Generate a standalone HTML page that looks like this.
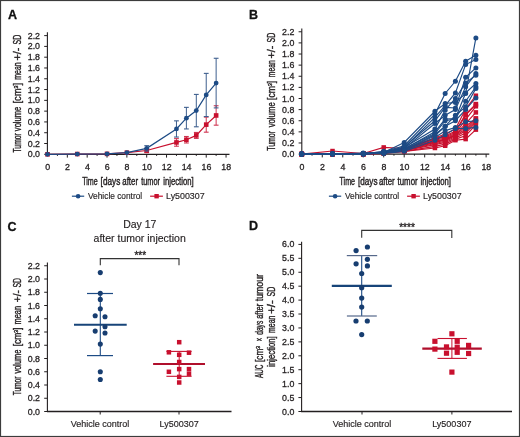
<!DOCTYPE html>
<html><head><meta charset="utf-8"><style>
html,body{margin:0;padding:0;background:#fff;}
svg{display:block;will-change:transform;}
text{font-family:"Liberation Sans", sans-serif;stroke:currentColor;stroke-width:0.3px;}
</style></head><body>
<svg width="520" height="437" viewBox="0 0 520 437">
<rect width="520" height="437" fill="#fff"/>
<rect x="0.5" y="0.5" width="519" height="436" fill="none" stroke="#3c3c3c" stroke-width="1.2"/>
<text x="8.00" y="19.10" font-size="12.5" fill="#111" color="#111" font-weight="bold" >A</text>
<line x1="47.40" y1="32.20" x2="47.40" y2="154.80" stroke="#231f20" stroke-width="1.1" />
<line x1="44.20" y1="154.30" x2="47.40" y2="154.30" stroke="#231f20" stroke-width="1" />
<text x="0" y="0" font-size="9.5" fill="#231f20" color="#231f20" text-anchor="end" transform="translate(40.00 157.30) scale(0.93 1)">0.0</text>
<line x1="44.20" y1="143.51" x2="47.40" y2="143.51" stroke="#231f20" stroke-width="1" />
<text x="0" y="0" font-size="9.5" fill="#231f20" color="#231f20" text-anchor="end" transform="translate(40.00 146.51) scale(0.93 1)">0.2</text>
<line x1="44.20" y1="132.72" x2="47.40" y2="132.72" stroke="#231f20" stroke-width="1" />
<text x="0" y="0" font-size="9.5" fill="#231f20" color="#231f20" text-anchor="end" transform="translate(40.00 135.72) scale(0.93 1)">0.4</text>
<line x1="44.20" y1="121.93" x2="47.40" y2="121.93" stroke="#231f20" stroke-width="1" />
<text x="0" y="0" font-size="9.5" fill="#231f20" color="#231f20" text-anchor="end" transform="translate(40.00 124.93) scale(0.93 1)">0.6</text>
<line x1="44.20" y1="111.14" x2="47.40" y2="111.14" stroke="#231f20" stroke-width="1" />
<text x="0" y="0" font-size="9.5" fill="#231f20" color="#231f20" text-anchor="end" transform="translate(40.00 114.14) scale(0.93 1)">0.8</text>
<line x1="44.20" y1="100.35" x2="47.40" y2="100.35" stroke="#231f20" stroke-width="1" />
<text x="0" y="0" font-size="9.5" fill="#231f20" color="#231f20" text-anchor="end" transform="translate(40.00 103.35) scale(0.93 1)">1.0</text>
<line x1="44.20" y1="89.56" x2="47.40" y2="89.56" stroke="#231f20" stroke-width="1" />
<text x="0" y="0" font-size="9.5" fill="#231f20" color="#231f20" text-anchor="end" transform="translate(40.00 92.56) scale(0.93 1)">1.2</text>
<line x1="44.20" y1="78.77" x2="47.40" y2="78.77" stroke="#231f20" stroke-width="1" />
<text x="0" y="0" font-size="9.5" fill="#231f20" color="#231f20" text-anchor="end" transform="translate(40.00 81.77) scale(0.93 1)">1.4</text>
<line x1="44.20" y1="67.98" x2="47.40" y2="67.98" stroke="#231f20" stroke-width="1" />
<text x="0" y="0" font-size="9.5" fill="#231f20" color="#231f20" text-anchor="end" transform="translate(40.00 70.98) scale(0.93 1)">1.6</text>
<line x1="44.20" y1="57.19" x2="47.40" y2="57.19" stroke="#231f20" stroke-width="1" />
<text x="0" y="0" font-size="9.5" fill="#231f20" color="#231f20" text-anchor="end" transform="translate(40.00 60.19) scale(0.93 1)">1.8</text>
<line x1="44.20" y1="46.40" x2="47.40" y2="46.40" stroke="#231f20" stroke-width="1" />
<text x="0" y="0" font-size="9.5" fill="#231f20" color="#231f20" text-anchor="end" transform="translate(40.00 49.40) scale(0.93 1)">2.0</text>
<line x1="44.20" y1="35.61" x2="47.40" y2="35.61" stroke="#231f20" stroke-width="1" />
<text x="0" y="0" font-size="9.5" fill="#231f20" color="#231f20" text-anchor="end" transform="translate(40.00 38.61) scale(0.93 1)">2.2</text>
<line x1="46.90" y1="154.30" x2="229.50" y2="154.30" stroke="#231f20" stroke-width="1.3" />
<text x="47.70" y="169.50" font-size="8.8" fill="#231f20" color="#231f20" text-anchor="middle" >0</text>
<line x1="57.42" y1="154.30" x2="57.42" y2="155.90" stroke="#231f20" stroke-width="1" />
<line x1="67.34" y1="154.30" x2="67.34" y2="157.60" stroke="#231f20" stroke-width="1" />
<text x="67.54" y="169.50" font-size="8.8" fill="#231f20" color="#231f20" text-anchor="middle" >2</text>
<line x1="77.26" y1="154.30" x2="77.26" y2="155.90" stroke="#231f20" stroke-width="1" />
<line x1="87.18" y1="154.30" x2="87.18" y2="157.60" stroke="#231f20" stroke-width="1" />
<text x="87.38" y="169.50" font-size="8.8" fill="#231f20" color="#231f20" text-anchor="middle" >4</text>
<line x1="97.10" y1="154.30" x2="97.10" y2="155.90" stroke="#231f20" stroke-width="1" />
<line x1="107.02" y1="154.30" x2="107.02" y2="157.60" stroke="#231f20" stroke-width="1" />
<text x="107.22" y="169.50" font-size="8.8" fill="#231f20" color="#231f20" text-anchor="middle" >6</text>
<line x1="116.94" y1="154.30" x2="116.94" y2="155.90" stroke="#231f20" stroke-width="1" />
<line x1="126.86" y1="154.30" x2="126.86" y2="157.60" stroke="#231f20" stroke-width="1" />
<text x="127.06" y="169.50" font-size="8.8" fill="#231f20" color="#231f20" text-anchor="middle" >8</text>
<line x1="136.78" y1="154.30" x2="136.78" y2="155.90" stroke="#231f20" stroke-width="1" />
<line x1="146.70" y1="154.30" x2="146.70" y2="157.60" stroke="#231f20" stroke-width="1" />
<text x="146.90" y="169.50" font-size="8.8" fill="#231f20" color="#231f20" text-anchor="middle" >10</text>
<line x1="156.62" y1="154.30" x2="156.62" y2="155.90" stroke="#231f20" stroke-width="1" />
<line x1="166.54" y1="154.30" x2="166.54" y2="157.60" stroke="#231f20" stroke-width="1" />
<text x="166.74" y="169.50" font-size="8.8" fill="#231f20" color="#231f20" text-anchor="middle" >12</text>
<line x1="176.46" y1="154.30" x2="176.46" y2="155.90" stroke="#231f20" stroke-width="1" />
<line x1="186.38" y1="154.30" x2="186.38" y2="157.60" stroke="#231f20" stroke-width="1" />
<text x="186.58" y="169.50" font-size="8.8" fill="#231f20" color="#231f20" text-anchor="middle" >14</text>
<line x1="196.30" y1="154.30" x2="196.30" y2="155.90" stroke="#231f20" stroke-width="1" />
<line x1="206.22" y1="154.30" x2="206.22" y2="157.60" stroke="#231f20" stroke-width="1" />
<text x="206.42" y="169.50" font-size="8.8" fill="#231f20" color="#231f20" text-anchor="middle" >16</text>
<line x1="216.14" y1="154.30" x2="216.14" y2="155.90" stroke="#231f20" stroke-width="1" />
<line x1="226.06" y1="154.30" x2="226.06" y2="157.60" stroke="#231f20" stroke-width="1" />
<text x="226.26" y="169.50" font-size="8.8" fill="#231f20" color="#231f20" text-anchor="middle" >18</text>
<text x="0" y="0" font-size="10.3" fill="#231f20" color="#231f20" transform="translate(20.90 152.55) rotate(-90)" textLength="19.40" lengthAdjust="spacingAndGlyphs" style="stroke-width:0.38px">Tumor</text>
<text x="0" y="0" font-size="10.3" fill="#231f20" color="#231f20" transform="translate(20.90 131.15) rotate(-90)" textLength="24.50" lengthAdjust="spacingAndGlyphs" style="stroke-width:0.38px">volume</text>
<text x="0" y="0" font-size="10.3" fill="#231f20" color="#231f20" transform="translate(20.90 103.55) rotate(-90)" textLength="20.80" lengthAdjust="spacingAndGlyphs" style="stroke-width:0.38px">[cm<tspan font-size="6" dy="-3.2">3</tspan><tspan dy="3.2">]</tspan></text>
<text x="0" y="0" font-size="10.3" fill="#231f20" color="#231f20" transform="translate(20.90 79.75) rotate(-90)" textLength="17.50" lengthAdjust="spacingAndGlyphs" style="stroke-width:0.38px">mean</text>
<text x="0" y="0" font-size="10.3" fill="#231f20" color="#231f20" transform="translate(20.90 60.55) rotate(-90)" textLength="13.00" lengthAdjust="spacingAndGlyphs" style="stroke-width:0.38px">+/-</text>
<text x="0" y="0" font-size="10.3" fill="#231f20" color="#231f20" transform="translate(20.90 44.45) rotate(-90)" textLength="9.70" lengthAdjust="spacingAndGlyphs" style="stroke-width:0.38px">SD</text>
<text x="82.20" y="184.50" font-size="10.3" fill="#231f20" color="#231f20" textLength="15.50" lengthAdjust="spacingAndGlyphs" style="stroke-width:0.4px">Time</text>
<text x="100.60" y="184.50" font-size="10.3" fill="#231f20" color="#231f20" textLength="19.70" lengthAdjust="spacingAndGlyphs" style="stroke-width:0.4px">[days</text>
<text x="122.30" y="184.50" font-size="10.3" fill="#231f20" color="#231f20" textLength="15.70" lengthAdjust="spacingAndGlyphs" style="stroke-width:0.4px">after</text>
<text x="141.20" y="184.50" font-size="10.3" fill="#231f20" color="#231f20" textLength="18.80" lengthAdjust="spacingAndGlyphs" style="stroke-width:0.4px">tumor</text>
<text x="163.20" y="184.50" font-size="10.3" fill="#231f20" color="#231f20" textLength="30.40" lengthAdjust="spacingAndGlyphs" style="stroke-width:0.4px">injection]</text>
<polyline points="47.50,154.30 77.26,154.03 107.02,153.87 126.86,152.68 146.70,150.52 176.46,142.43 186.38,139.73 196.30,135.42 206.22,124.63 216.14,115.46" fill="none" stroke="#c8102e" stroke-width="1.2"/>
<line x1="146.70" y1="148.37" x2="146.70" y2="152.68" stroke="#cf3450" stroke-width="1" />
<line x1="144.30" y1="148.37" x2="149.10" y2="148.37" stroke="#cf3450" stroke-width="1.1" />
<line x1="144.30" y1="152.68" x2="149.10" y2="152.68" stroke="#cf3450" stroke-width="1.1" />
<line x1="176.46" y1="138.65" x2="176.46" y2="146.21" stroke="#cf3450" stroke-width="1" />
<line x1="174.06" y1="138.65" x2="178.86" y2="138.65" stroke="#cf3450" stroke-width="1.1" />
<line x1="174.06" y1="146.21" x2="178.86" y2="146.21" stroke="#cf3450" stroke-width="1.1" />
<line x1="186.38" y1="136.50" x2="186.38" y2="142.97" stroke="#cf3450" stroke-width="1" />
<line x1="183.98" y1="136.50" x2="188.78" y2="136.50" stroke="#cf3450" stroke-width="1.1" />
<line x1="183.98" y1="142.97" x2="188.78" y2="142.97" stroke="#cf3450" stroke-width="1.1" />
<line x1="196.30" y1="132.45" x2="196.30" y2="138.38" stroke="#cf3450" stroke-width="1" />
<line x1="193.90" y1="132.45" x2="198.70" y2="132.45" stroke="#cf3450" stroke-width="1.1" />
<line x1="193.90" y1="138.38" x2="198.70" y2="138.38" stroke="#cf3450" stroke-width="1.1" />
<line x1="206.22" y1="117.07" x2="206.22" y2="132.18" stroke="#cf3450" stroke-width="1" />
<line x1="203.82" y1="117.07" x2="208.62" y2="117.07" stroke="#cf3450" stroke-width="1.1" />
<line x1="203.82" y1="132.18" x2="208.62" y2="132.18" stroke="#cf3450" stroke-width="1.1" />
<line x1="216.14" y1="105.75" x2="216.14" y2="125.17" stroke="#cf3450" stroke-width="1" />
<line x1="213.74" y1="105.75" x2="218.54" y2="105.75" stroke="#cf3450" stroke-width="1.1" />
<line x1="213.74" y1="125.17" x2="218.54" y2="125.17" stroke="#cf3450" stroke-width="1.1" />
<rect x="45.20" y="152.00" width="4.6" height="4.6" fill="#c8102e"/>
<rect x="74.96" y="151.73" width="4.6" height="4.6" fill="#c8102e"/>
<rect x="104.72" y="151.57" width="4.6" height="4.6" fill="#c8102e"/>
<rect x="124.56" y="150.38" width="4.6" height="4.6" fill="#c8102e"/>
<rect x="144.40" y="148.22" width="4.6" height="4.6" fill="#c8102e"/>
<rect x="174.16" y="140.13" width="4.6" height="4.6" fill="#c8102e"/>
<rect x="184.08" y="137.43" width="4.6" height="4.6" fill="#c8102e"/>
<rect x="194.00" y="133.12" width="4.6" height="4.6" fill="#c8102e"/>
<rect x="203.92" y="122.33" width="4.6" height="4.6" fill="#c8102e"/>
<rect x="213.84" y="113.16" width="4.6" height="4.6" fill="#c8102e"/>
<polyline points="47.50,154.30 77.26,154.03 107.02,153.87 126.86,152.68 146.70,148.37 176.46,128.94 186.38,118.15 196.30,110.60 206.22,94.96 216.14,83.09" fill="none" stroke="#1d4b85" stroke-width="1.2"/>
<line x1="146.70" y1="145.67" x2="146.70" y2="151.06" stroke="#3e5f8e" stroke-width="1" />
<line x1="144.30" y1="145.67" x2="149.10" y2="145.67" stroke="#3e5f8e" stroke-width="1.1" />
<line x1="144.30" y1="151.06" x2="149.10" y2="151.06" stroke="#3e5f8e" stroke-width="1.1" />
<line x1="176.46" y1="120.85" x2="176.46" y2="137.04" stroke="#3e5f8e" stroke-width="1" />
<line x1="174.06" y1="120.85" x2="178.86" y2="120.85" stroke="#3e5f8e" stroke-width="1.1" />
<line x1="174.06" y1="137.04" x2="178.86" y2="137.04" stroke="#3e5f8e" stroke-width="1.1" />
<line x1="186.38" y1="107.36" x2="186.38" y2="128.94" stroke="#3e5f8e" stroke-width="1" />
<line x1="183.98" y1="107.36" x2="188.78" y2="107.36" stroke="#3e5f8e" stroke-width="1.1" />
<line x1="183.98" y1="128.94" x2="188.78" y2="128.94" stroke="#3e5f8e" stroke-width="1.1" />
<line x1="196.30" y1="94.42" x2="196.30" y2="126.79" stroke="#3e5f8e" stroke-width="1" />
<line x1="193.90" y1="94.42" x2="198.70" y2="94.42" stroke="#3e5f8e" stroke-width="1.1" />
<line x1="193.90" y1="126.79" x2="198.70" y2="126.79" stroke="#3e5f8e" stroke-width="1.1" />
<line x1="206.22" y1="73.38" x2="206.22" y2="116.54" stroke="#3e5f8e" stroke-width="1" />
<line x1="203.82" y1="73.38" x2="208.62" y2="73.38" stroke="#3e5f8e" stroke-width="1.1" />
<line x1="203.82" y1="116.54" x2="208.62" y2="116.54" stroke="#3e5f8e" stroke-width="1.1" />
<line x1="216.14" y1="58.27" x2="216.14" y2="107.90" stroke="#3e5f8e" stroke-width="1" />
<line x1="213.74" y1="58.27" x2="218.54" y2="58.27" stroke="#3e5f8e" stroke-width="1.1" />
<line x1="213.74" y1="107.90" x2="218.54" y2="107.90" stroke="#3e5f8e" stroke-width="1.1" />
<circle cx="47.50" cy="154.30" r="2.4" fill="#1d4b85"/>
<circle cx="77.26" cy="154.03" r="2.4" fill="#1d4b85"/>
<circle cx="107.02" cy="153.87" r="2.4" fill="#1d4b85"/>
<circle cx="126.86" cy="152.68" r="2.4" fill="#1d4b85"/>
<circle cx="146.70" cy="148.37" r="2.4" fill="#1d4b85"/>
<circle cx="176.46" cy="128.94" r="2.4" fill="#1d4b85"/>
<circle cx="186.38" cy="118.15" r="2.4" fill="#1d4b85"/>
<circle cx="196.30" cy="110.60" r="2.4" fill="#1d4b85"/>
<circle cx="206.22" cy="94.96" r="2.4" fill="#1d4b85"/>
<circle cx="216.14" cy="83.09" r="2.4" fill="#1d4b85"/>
<line x1="71.90" y1="196.20" x2="84.20" y2="196.20" stroke="#1d4b85" stroke-width="1.2" />
<circle cx="78.10" cy="196.20" r="2.3" fill="#1d4b85"/>
<text x="88.00" y="198.90" font-size="8.5" fill="#231f20" color="#231f20" textLength="54.20" lengthAdjust="spacingAndGlyphs" style="stroke-width:0.15px">Vehicle control</text>
<line x1="150.10" y1="196.20" x2="162.90" y2="196.20" stroke="#c8102e" stroke-width="1.2" />
<rect x="154.40" y="194.00" width="4.4" height="4.4" fill="#c8102e"/>
<text x="166.10" y="198.90" font-size="8.5" fill="#231f20" color="#231f20" textLength="38.50" lengthAdjust="spacingAndGlyphs" style="stroke-width:0.15px">Ly500307</text>
<text x="249.10" y="19.10" font-size="12.5" fill="#111" color="#111" font-weight="bold" >B</text>
<line x1="301.80" y1="28.40" x2="301.80" y2="154.60" stroke="#231f20" stroke-width="1.1" />
<line x1="298.60" y1="154.10" x2="301.80" y2="154.10" stroke="#231f20" stroke-width="1" />
<text x="0" y="0" font-size="9.5" fill="#231f20" color="#231f20" text-anchor="end" transform="translate(294.30 157.10) scale(0.93 1)">0.0</text>
<line x1="298.60" y1="142.98" x2="301.80" y2="142.98" stroke="#231f20" stroke-width="1" />
<text x="0" y="0" font-size="9.5" fill="#231f20" color="#231f20" text-anchor="end" transform="translate(294.30 145.98) scale(0.93 1)">0.2</text>
<line x1="298.60" y1="131.86" x2="301.80" y2="131.86" stroke="#231f20" stroke-width="1" />
<text x="0" y="0" font-size="9.5" fill="#231f20" color="#231f20" text-anchor="end" transform="translate(294.30 134.86) scale(0.93 1)">0.4</text>
<line x1="298.60" y1="120.74" x2="301.80" y2="120.74" stroke="#231f20" stroke-width="1" />
<text x="0" y="0" font-size="9.5" fill="#231f20" color="#231f20" text-anchor="end" transform="translate(294.30 123.74) scale(0.93 1)">0.6</text>
<line x1="298.60" y1="109.62" x2="301.80" y2="109.62" stroke="#231f20" stroke-width="1" />
<text x="0" y="0" font-size="9.5" fill="#231f20" color="#231f20" text-anchor="end" transform="translate(294.30 112.62) scale(0.93 1)">0.8</text>
<line x1="298.60" y1="98.50" x2="301.80" y2="98.50" stroke="#231f20" stroke-width="1" />
<text x="0" y="0" font-size="9.5" fill="#231f20" color="#231f20" text-anchor="end" transform="translate(294.30 101.50) scale(0.93 1)">1.0</text>
<line x1="298.60" y1="87.38" x2="301.80" y2="87.38" stroke="#231f20" stroke-width="1" />
<text x="0" y="0" font-size="9.5" fill="#231f20" color="#231f20" text-anchor="end" transform="translate(294.30 90.38) scale(0.93 1)">1.2</text>
<line x1="298.60" y1="76.26" x2="301.80" y2="76.26" stroke="#231f20" stroke-width="1" />
<text x="0" y="0" font-size="9.5" fill="#231f20" color="#231f20" text-anchor="end" transform="translate(294.30 79.26) scale(0.93 1)">1.4</text>
<line x1="298.60" y1="65.14" x2="301.80" y2="65.14" stroke="#231f20" stroke-width="1" />
<text x="0" y="0" font-size="9.5" fill="#231f20" color="#231f20" text-anchor="end" transform="translate(294.30 68.14) scale(0.93 1)">1.6</text>
<line x1="298.60" y1="54.02" x2="301.80" y2="54.02" stroke="#231f20" stroke-width="1" />
<text x="0" y="0" font-size="9.5" fill="#231f20" color="#231f20" text-anchor="end" transform="translate(294.30 57.02) scale(0.93 1)">1.8</text>
<line x1="298.60" y1="42.90" x2="301.80" y2="42.90" stroke="#231f20" stroke-width="1" />
<text x="0" y="0" font-size="9.5" fill="#231f20" color="#231f20" text-anchor="end" transform="translate(294.30 45.90) scale(0.93 1)">2.0</text>
<line x1="298.60" y1="31.78" x2="301.80" y2="31.78" stroke="#231f20" stroke-width="1" />
<text x="0" y="0" font-size="9.5" fill="#231f20" color="#231f20" text-anchor="end" transform="translate(294.30 34.78) scale(0.93 1)">2.2</text>
<line x1="301.30" y1="154.10" x2="489.30" y2="154.10" stroke="#231f20" stroke-width="1.3" />
<text x="302.00" y="169.50" font-size="8.8" fill="#231f20" color="#231f20" text-anchor="middle" >0</text>
<line x1="312.04" y1="154.10" x2="312.04" y2="155.70" stroke="#231f20" stroke-width="1" />
<line x1="322.28" y1="154.10" x2="322.28" y2="157.40" stroke="#231f20" stroke-width="1" />
<text x="322.48" y="169.50" font-size="8.8" fill="#231f20" color="#231f20" text-anchor="middle" >2</text>
<line x1="332.52" y1="154.10" x2="332.52" y2="155.70" stroke="#231f20" stroke-width="1" />
<line x1="342.76" y1="154.10" x2="342.76" y2="157.40" stroke="#231f20" stroke-width="1" />
<text x="342.96" y="169.50" font-size="8.8" fill="#231f20" color="#231f20" text-anchor="middle" >4</text>
<line x1="353.00" y1="154.10" x2="353.00" y2="155.70" stroke="#231f20" stroke-width="1" />
<line x1="363.24" y1="154.10" x2="363.24" y2="157.40" stroke="#231f20" stroke-width="1" />
<text x="363.44" y="169.50" font-size="8.8" fill="#231f20" color="#231f20" text-anchor="middle" >6</text>
<line x1="373.48" y1="154.10" x2="373.48" y2="155.70" stroke="#231f20" stroke-width="1" />
<line x1="383.72" y1="154.10" x2="383.72" y2="157.40" stroke="#231f20" stroke-width="1" />
<text x="383.92" y="169.50" font-size="8.8" fill="#231f20" color="#231f20" text-anchor="middle" >8</text>
<line x1="393.96" y1="154.10" x2="393.96" y2="155.70" stroke="#231f20" stroke-width="1" />
<line x1="404.20" y1="154.10" x2="404.20" y2="157.40" stroke="#231f20" stroke-width="1" />
<text x="404.40" y="169.50" font-size="8.8" fill="#231f20" color="#231f20" text-anchor="middle" >10</text>
<line x1="414.44" y1="154.10" x2="414.44" y2="155.70" stroke="#231f20" stroke-width="1" />
<line x1="424.68" y1="154.10" x2="424.68" y2="157.40" stroke="#231f20" stroke-width="1" />
<text x="424.88" y="169.50" font-size="8.8" fill="#231f20" color="#231f20" text-anchor="middle" >12</text>
<line x1="434.92" y1="154.10" x2="434.92" y2="155.70" stroke="#231f20" stroke-width="1" />
<line x1="445.16" y1="154.10" x2="445.16" y2="157.40" stroke="#231f20" stroke-width="1" />
<text x="445.36" y="169.50" font-size="8.8" fill="#231f20" color="#231f20" text-anchor="middle" >14</text>
<line x1="455.40" y1="154.10" x2="455.40" y2="155.70" stroke="#231f20" stroke-width="1" />
<line x1="465.64" y1="154.10" x2="465.64" y2="157.40" stroke="#231f20" stroke-width="1" />
<text x="465.84" y="169.50" font-size="8.8" fill="#231f20" color="#231f20" text-anchor="middle" >16</text>
<line x1="475.88" y1="154.10" x2="475.88" y2="155.70" stroke="#231f20" stroke-width="1" />
<line x1="486.12" y1="154.10" x2="486.12" y2="157.40" stroke="#231f20" stroke-width="1" />
<text x="486.32" y="169.50" font-size="8.8" fill="#231f20" color="#231f20" text-anchor="middle" >18</text>
<text x="0" y="0" font-size="10.3" fill="#231f20" color="#231f20" transform="translate(274.80 150.75) rotate(-90)" textLength="19.80" lengthAdjust="spacingAndGlyphs" style="stroke-width:0.38px">Tumor</text>
<text x="0" y="0" font-size="10.3" fill="#231f20" color="#231f20" transform="translate(274.80 127.35) rotate(-90)" textLength="25.10" lengthAdjust="spacingAndGlyphs" style="stroke-width:0.38px">volume</text>
<text x="0" y="0" font-size="10.3" fill="#231f20" color="#231f20" transform="translate(274.80 99.95) rotate(-90)" textLength="19.20" lengthAdjust="spacingAndGlyphs" style="stroke-width:0.38px">[cm<tspan font-size="6" dy="-3.2">3</tspan><tspan dy="3.2">]</tspan></text>
<text x="0" y="0" font-size="10.3" fill="#231f20" color="#231f20" transform="translate(274.80 77.15) rotate(-90)" textLength="16.90" lengthAdjust="spacingAndGlyphs" style="stroke-width:0.38px">mean</text>
<text x="0" y="0" font-size="10.3" fill="#231f20" color="#231f20" transform="translate(274.80 58.55) rotate(-90)" textLength="13.00" lengthAdjust="spacingAndGlyphs" style="stroke-width:0.38px">+/-</text>
<text x="0" y="0" font-size="10.3" fill="#231f20" color="#231f20" transform="translate(274.80 42.45) rotate(-90)" textLength="9.70" lengthAdjust="spacingAndGlyphs" style="stroke-width:0.38px">SD</text>
<text x="339.50" y="184.50" font-size="10.3" fill="#231f20" color="#231f20" textLength="15.50" lengthAdjust="spacingAndGlyphs" style="stroke-width:0.4px">Time</text>
<text x="357.90" y="184.50" font-size="10.3" fill="#231f20" color="#231f20" textLength="19.60" lengthAdjust="spacingAndGlyphs" style="stroke-width:0.4px">[days</text>
<text x="379.00" y="184.50" font-size="10.3" fill="#231f20" color="#231f20" textLength="15.60" lengthAdjust="spacingAndGlyphs" style="stroke-width:0.4px">after</text>
<text x="397.60" y="184.50" font-size="10.3" fill="#231f20" color="#231f20" textLength="20.00" lengthAdjust="spacingAndGlyphs" style="stroke-width:0.4px">tumor</text>
<text x="420.60" y="184.50" font-size="10.3" fill="#231f20" color="#231f20" textLength="30.40" lengthAdjust="spacingAndGlyphs" style="stroke-width:0.4px">injection]</text>
<line x1="328.90" y1="196.20" x2="341.20" y2="196.20" stroke="#1d4b85" stroke-width="1.2" />
<circle cx="335.10" cy="196.20" r="2.3" fill="#1d4b85"/>
<text x="345.00" y="198.90" font-size="8.5" fill="#231f20" color="#231f20" textLength="54.20" lengthAdjust="spacingAndGlyphs" style="stroke-width:0.15px">Vehicle control</text>
<line x1="407.10" y1="196.20" x2="419.90" y2="196.20" stroke="#c8102e" stroke-width="1.2" />
<rect x="411.40" y="194.00" width="4.4" height="4.4" fill="#c8102e"/>
<text x="423.10" y="198.90" font-size="8.5" fill="#231f20" color="#231f20" textLength="38.50" lengthAdjust="spacingAndGlyphs" style="stroke-width:0.15px">Ly500307</text>
<polyline points="301.80,154.10 332.52,151.04 363.24,153.54 383.72,147.43 404.20,148.54 434.92,137.98 445.16,134.08 455.40,129.08 465.64,109.06 475.88,95.72" fill="none" stroke="#c8102e" stroke-width="1.15"/>
<polyline points="301.80,154.10 332.52,154.10 363.24,154.10 383.72,152.43 404.20,149.10 434.92,138.53 445.16,135.75 455.40,131.30 465.64,114.07 475.88,104.06" fill="none" stroke="#c8102e" stroke-width="1.15"/>
<polyline points="301.80,154.10 332.52,153.54 363.24,153.54 383.72,152.99 404.20,149.65 434.92,139.09 445.16,136.86 455.40,132.42 465.64,115.18 475.88,104.62" fill="none" stroke="#c8102e" stroke-width="1.15"/>
<polyline points="301.80,154.10 332.52,154.10 363.24,154.10 383.72,152.43 404.20,149.65 434.92,140.20 445.16,137.98 455.40,133.53 465.64,119.63 475.88,106.28" fill="none" stroke="#c8102e" stroke-width="1.15"/>
<polyline points="301.80,154.10 332.52,154.10 363.24,153.54 383.72,152.99 404.20,150.21 434.92,141.31 445.16,139.09 455.40,134.64 465.64,123.52 475.88,112.40" fill="none" stroke="#c8102e" stroke-width="1.15"/>
<polyline points="301.80,154.10 332.52,153.54 363.24,154.10 383.72,152.99 404.20,150.21 434.92,141.87 445.16,139.64 455.40,135.20 465.64,126.30 475.88,118.52" fill="none" stroke="#c8102e" stroke-width="1.15"/>
<polyline points="301.80,154.10 332.52,154.10 363.24,154.10 383.72,152.43 404.20,150.76 434.92,142.42 445.16,140.20 455.40,135.75 465.64,129.08 475.88,118.52" fill="none" stroke="#c8102e" stroke-width="1.15"/>
<polyline points="301.80,154.10 332.52,154.10 363.24,153.54 383.72,152.99 404.20,150.76 434.92,143.54 445.16,141.31 455.40,136.86 465.64,130.75 475.88,120.74" fill="none" stroke="#c8102e" stroke-width="1.15"/>
<polyline points="301.80,154.10 332.52,154.10 363.24,154.10 383.72,152.99 404.20,150.76 434.92,144.65 445.16,142.42 455.40,137.98 465.64,132.97 475.88,122.41" fill="none" stroke="#c8102e" stroke-width="1.15"/>
<polyline points="301.80,154.10 332.52,153.54 363.24,154.10 383.72,153.54 404.20,151.32 434.92,146.32 445.16,144.09 455.40,139.09 465.64,135.75 475.88,124.63" fill="none" stroke="#c8102e" stroke-width="1.15"/>
<polyline points="301.80,154.10 332.52,154.10 363.24,154.10 383.72,152.99 404.20,151.32 434.92,147.98 445.16,145.76 455.40,140.20 465.64,139.09 475.88,129.64" fill="none" stroke="#c8102e" stroke-width="1.15"/>
<polyline points="301.80,154.10 332.52,153.82 363.24,153.54 383.72,152.43 404.20,142.42 434.92,111.29 445.16,103.50 455.40,102.39 465.64,93.50 475.88,37.90" fill="none" stroke="#1d4b85" stroke-width="1.15"/>
<polyline points="301.80,154.10 332.52,154.10 363.24,153.54 383.72,151.88 404.20,145.76 434.92,114.07 445.16,93.50 455.40,81.26 465.64,61.25 475.88,55.13" fill="none" stroke="#1d4b85" stroke-width="1.15"/>
<polyline points="301.80,154.10 332.52,153.54 363.24,154.10 383.72,152.99 404.20,147.43 434.92,117.40 445.16,105.73 455.40,92.94 465.64,64.58 475.88,59.58" fill="none" stroke="#1d4b85" stroke-width="1.15"/>
<polyline points="301.80,154.10 332.52,154.10 363.24,153.54 383.72,152.43 404.20,146.87 434.92,120.74 445.16,107.40 455.40,107.95 465.64,77.37 475.88,67.92" fill="none" stroke="#1d4b85" stroke-width="1.15"/>
<polyline points="301.80,154.10 332.52,153.54 363.24,154.10 383.72,151.32 404.20,148.54 434.92,123.52 445.16,115.18 455.40,109.62 465.64,86.82 475.88,73.48" fill="none" stroke="#1d4b85" stroke-width="1.15"/>
<polyline points="301.80,154.10 332.52,154.10 363.24,152.99 383.72,152.99 404.20,147.43 434.92,129.08 445.16,110.18 455.40,98.50 465.64,82.93 475.88,75.15" fill="none" stroke="#1d4b85" stroke-width="1.15"/>
<polyline points="301.80,154.10 332.52,153.54 363.24,154.10 383.72,152.43 404.20,149.10 434.92,131.86 445.16,119.07 455.40,118.52 465.64,92.94 475.88,83.49" fill="none" stroke="#1d4b85" stroke-width="1.15"/>
<polyline points="301.80,154.10 332.52,154.10 363.24,153.54 383.72,152.99 404.20,148.54 434.92,133.53 445.16,120.74 455.40,119.07 465.64,101.28 475.88,86.82" fill="none" stroke="#1d4b85" stroke-width="1.15"/>
<polyline points="301.80,154.10 332.52,154.10 363.24,154.10 383.72,152.43 404.20,149.65 434.92,134.64 445.16,126.30 455.40,115.18 465.64,106.84 475.88,88.49" fill="none" stroke="#1d4b85" stroke-width="1.15"/>
<polyline points="301.80,154.10 332.52,153.54 363.24,153.54 383.72,152.99 404.20,150.21 434.92,135.75 445.16,126.30 455.40,120.74 465.64,109.62 475.88,97.94" fill="none" stroke="#1d4b85" stroke-width="1.15"/>
<polyline points="301.80,154.10 332.52,154.10 363.24,154.10 383.72,152.99 404.20,150.76 434.92,137.42 445.16,130.75 455.40,127.41 465.64,121.85 475.88,120.74" fill="none" stroke="#1d4b85" stroke-width="1.15"/>
<polyline points="301.80,154.10 332.52,154.10 363.24,153.54 383.72,153.54 404.20,151.32 434.92,140.20 445.16,134.64 455.40,128.52 465.64,128.52 475.88,127.41" fill="none" stroke="#1d4b85" stroke-width="1.15"/>
<rect x="299.55" y="151.85" width="4.5" height="4.5" fill="#c8102e"/>
<rect x="330.27" y="148.79" width="4.5" height="4.5" fill="#c8102e"/>
<rect x="360.99" y="151.29" width="4.5" height="4.5" fill="#c8102e"/>
<rect x="381.47" y="145.18" width="4.5" height="4.5" fill="#c8102e"/>
<rect x="401.95" y="146.29" width="4.5" height="4.5" fill="#c8102e"/>
<rect x="432.67" y="135.73" width="4.5" height="4.5" fill="#c8102e"/>
<rect x="442.91" y="131.83" width="4.5" height="4.5" fill="#c8102e"/>
<rect x="453.15" y="126.83" width="4.5" height="4.5" fill="#c8102e"/>
<rect x="463.39" y="106.81" width="4.5" height="4.5" fill="#c8102e"/>
<rect x="473.63" y="93.47" width="4.5" height="4.5" fill="#c8102e"/>
<rect x="299.55" y="151.85" width="4.5" height="4.5" fill="#c8102e"/>
<rect x="330.27" y="151.85" width="4.5" height="4.5" fill="#c8102e"/>
<rect x="360.99" y="151.85" width="4.5" height="4.5" fill="#c8102e"/>
<rect x="381.47" y="150.18" width="4.5" height="4.5" fill="#c8102e"/>
<rect x="401.95" y="146.85" width="4.5" height="4.5" fill="#c8102e"/>
<rect x="432.67" y="136.28" width="4.5" height="4.5" fill="#c8102e"/>
<rect x="442.91" y="133.50" width="4.5" height="4.5" fill="#c8102e"/>
<rect x="453.15" y="129.05" width="4.5" height="4.5" fill="#c8102e"/>
<rect x="463.39" y="111.82" width="4.5" height="4.5" fill="#c8102e"/>
<rect x="473.63" y="101.81" width="4.5" height="4.5" fill="#c8102e"/>
<rect x="299.55" y="151.85" width="4.5" height="4.5" fill="#c8102e"/>
<rect x="330.27" y="151.29" width="4.5" height="4.5" fill="#c8102e"/>
<rect x="360.99" y="151.29" width="4.5" height="4.5" fill="#c8102e"/>
<rect x="381.47" y="150.74" width="4.5" height="4.5" fill="#c8102e"/>
<rect x="401.95" y="147.40" width="4.5" height="4.5" fill="#c8102e"/>
<rect x="432.67" y="136.84" width="4.5" height="4.5" fill="#c8102e"/>
<rect x="442.91" y="134.61" width="4.5" height="4.5" fill="#c8102e"/>
<rect x="453.15" y="130.17" width="4.5" height="4.5" fill="#c8102e"/>
<rect x="463.39" y="112.93" width="4.5" height="4.5" fill="#c8102e"/>
<rect x="473.63" y="102.37" width="4.5" height="4.5" fill="#c8102e"/>
<rect x="299.55" y="151.85" width="4.5" height="4.5" fill="#c8102e"/>
<rect x="330.27" y="151.85" width="4.5" height="4.5" fill="#c8102e"/>
<rect x="360.99" y="151.85" width="4.5" height="4.5" fill="#c8102e"/>
<rect x="381.47" y="150.18" width="4.5" height="4.5" fill="#c8102e"/>
<rect x="401.95" y="147.40" width="4.5" height="4.5" fill="#c8102e"/>
<rect x="432.67" y="137.95" width="4.5" height="4.5" fill="#c8102e"/>
<rect x="442.91" y="135.73" width="4.5" height="4.5" fill="#c8102e"/>
<rect x="453.15" y="131.28" width="4.5" height="4.5" fill="#c8102e"/>
<rect x="463.39" y="117.38" width="4.5" height="4.5" fill="#c8102e"/>
<rect x="473.63" y="104.03" width="4.5" height="4.5" fill="#c8102e"/>
<rect x="299.55" y="151.85" width="4.5" height="4.5" fill="#c8102e"/>
<rect x="330.27" y="151.85" width="4.5" height="4.5" fill="#c8102e"/>
<rect x="360.99" y="151.29" width="4.5" height="4.5" fill="#c8102e"/>
<rect x="381.47" y="150.74" width="4.5" height="4.5" fill="#c8102e"/>
<rect x="401.95" y="147.96" width="4.5" height="4.5" fill="#c8102e"/>
<rect x="432.67" y="139.06" width="4.5" height="4.5" fill="#c8102e"/>
<rect x="442.91" y="136.84" width="4.5" height="4.5" fill="#c8102e"/>
<rect x="453.15" y="132.39" width="4.5" height="4.5" fill="#c8102e"/>
<rect x="463.39" y="121.27" width="4.5" height="4.5" fill="#c8102e"/>
<rect x="473.63" y="110.15" width="4.5" height="4.5" fill="#c8102e"/>
<rect x="299.55" y="151.85" width="4.5" height="4.5" fill="#c8102e"/>
<rect x="330.27" y="151.29" width="4.5" height="4.5" fill="#c8102e"/>
<rect x="360.99" y="151.85" width="4.5" height="4.5" fill="#c8102e"/>
<rect x="381.47" y="150.74" width="4.5" height="4.5" fill="#c8102e"/>
<rect x="401.95" y="147.96" width="4.5" height="4.5" fill="#c8102e"/>
<rect x="432.67" y="139.62" width="4.5" height="4.5" fill="#c8102e"/>
<rect x="442.91" y="137.39" width="4.5" height="4.5" fill="#c8102e"/>
<rect x="453.15" y="132.95" width="4.5" height="4.5" fill="#c8102e"/>
<rect x="463.39" y="124.05" width="4.5" height="4.5" fill="#c8102e"/>
<rect x="473.63" y="116.27" width="4.5" height="4.5" fill="#c8102e"/>
<rect x="299.55" y="151.85" width="4.5" height="4.5" fill="#c8102e"/>
<rect x="330.27" y="151.85" width="4.5" height="4.5" fill="#c8102e"/>
<rect x="360.99" y="151.85" width="4.5" height="4.5" fill="#c8102e"/>
<rect x="381.47" y="150.18" width="4.5" height="4.5" fill="#c8102e"/>
<rect x="401.95" y="148.51" width="4.5" height="4.5" fill="#c8102e"/>
<rect x="432.67" y="140.17" width="4.5" height="4.5" fill="#c8102e"/>
<rect x="442.91" y="137.95" width="4.5" height="4.5" fill="#c8102e"/>
<rect x="453.15" y="133.50" width="4.5" height="4.5" fill="#c8102e"/>
<rect x="463.39" y="126.83" width="4.5" height="4.5" fill="#c8102e"/>
<rect x="473.63" y="116.27" width="4.5" height="4.5" fill="#c8102e"/>
<rect x="299.55" y="151.85" width="4.5" height="4.5" fill="#c8102e"/>
<rect x="330.27" y="151.85" width="4.5" height="4.5" fill="#c8102e"/>
<rect x="360.99" y="151.29" width="4.5" height="4.5" fill="#c8102e"/>
<rect x="381.47" y="150.74" width="4.5" height="4.5" fill="#c8102e"/>
<rect x="401.95" y="148.51" width="4.5" height="4.5" fill="#c8102e"/>
<rect x="432.67" y="141.29" width="4.5" height="4.5" fill="#c8102e"/>
<rect x="442.91" y="139.06" width="4.5" height="4.5" fill="#c8102e"/>
<rect x="453.15" y="134.61" width="4.5" height="4.5" fill="#c8102e"/>
<rect x="463.39" y="128.50" width="4.5" height="4.5" fill="#c8102e"/>
<rect x="473.63" y="118.49" width="4.5" height="4.5" fill="#c8102e"/>
<rect x="299.55" y="151.85" width="4.5" height="4.5" fill="#c8102e"/>
<rect x="330.27" y="151.85" width="4.5" height="4.5" fill="#c8102e"/>
<rect x="360.99" y="151.85" width="4.5" height="4.5" fill="#c8102e"/>
<rect x="381.47" y="150.74" width="4.5" height="4.5" fill="#c8102e"/>
<rect x="401.95" y="148.51" width="4.5" height="4.5" fill="#c8102e"/>
<rect x="432.67" y="142.40" width="4.5" height="4.5" fill="#c8102e"/>
<rect x="442.91" y="140.17" width="4.5" height="4.5" fill="#c8102e"/>
<rect x="453.15" y="135.73" width="4.5" height="4.5" fill="#c8102e"/>
<rect x="463.39" y="130.72" width="4.5" height="4.5" fill="#c8102e"/>
<rect x="473.63" y="120.16" width="4.5" height="4.5" fill="#c8102e"/>
<rect x="299.55" y="151.85" width="4.5" height="4.5" fill="#c8102e"/>
<rect x="330.27" y="151.29" width="4.5" height="4.5" fill="#c8102e"/>
<rect x="360.99" y="151.85" width="4.5" height="4.5" fill="#c8102e"/>
<rect x="381.47" y="151.29" width="4.5" height="4.5" fill="#c8102e"/>
<rect x="401.95" y="149.07" width="4.5" height="4.5" fill="#c8102e"/>
<rect x="432.67" y="144.07" width="4.5" height="4.5" fill="#c8102e"/>
<rect x="442.91" y="141.84" width="4.5" height="4.5" fill="#c8102e"/>
<rect x="453.15" y="136.84" width="4.5" height="4.5" fill="#c8102e"/>
<rect x="463.39" y="133.50" width="4.5" height="4.5" fill="#c8102e"/>
<rect x="473.63" y="122.38" width="4.5" height="4.5" fill="#c8102e"/>
<rect x="299.55" y="151.85" width="4.5" height="4.5" fill="#c8102e"/>
<rect x="330.27" y="151.85" width="4.5" height="4.5" fill="#c8102e"/>
<rect x="360.99" y="151.85" width="4.5" height="4.5" fill="#c8102e"/>
<rect x="381.47" y="150.74" width="4.5" height="4.5" fill="#c8102e"/>
<rect x="401.95" y="149.07" width="4.5" height="4.5" fill="#c8102e"/>
<rect x="432.67" y="145.73" width="4.5" height="4.5" fill="#c8102e"/>
<rect x="442.91" y="143.51" width="4.5" height="4.5" fill="#c8102e"/>
<rect x="453.15" y="137.95" width="4.5" height="4.5" fill="#c8102e"/>
<rect x="463.39" y="136.84" width="4.5" height="4.5" fill="#c8102e"/>
<rect x="473.63" y="127.39" width="4.5" height="4.5" fill="#c8102e"/>
<circle cx="301.80" cy="154.10" r="2.5" fill="#1d4b85"/>
<circle cx="332.52" cy="153.82" r="2.5" fill="#1d4b85"/>
<circle cx="363.24" cy="153.54" r="2.5" fill="#1d4b85"/>
<circle cx="383.72" cy="152.43" r="2.5" fill="#1d4b85"/>
<circle cx="404.20" cy="142.42" r="2.5" fill="#1d4b85"/>
<circle cx="434.92" cy="111.29" r="2.5" fill="#1d4b85"/>
<circle cx="445.16" cy="103.50" r="2.5" fill="#1d4b85"/>
<circle cx="455.40" cy="102.39" r="2.5" fill="#1d4b85"/>
<circle cx="465.64" cy="93.50" r="2.5" fill="#1d4b85"/>
<circle cx="475.88" cy="37.90" r="2.5" fill="#1d4b85"/>
<circle cx="301.80" cy="154.10" r="2.5" fill="#1d4b85"/>
<circle cx="332.52" cy="154.10" r="2.5" fill="#1d4b85"/>
<circle cx="363.24" cy="153.54" r="2.5" fill="#1d4b85"/>
<circle cx="383.72" cy="151.88" r="2.5" fill="#1d4b85"/>
<circle cx="404.20" cy="145.76" r="2.5" fill="#1d4b85"/>
<circle cx="434.92" cy="114.07" r="2.5" fill="#1d4b85"/>
<circle cx="445.16" cy="93.50" r="2.5" fill="#1d4b85"/>
<circle cx="455.40" cy="81.26" r="2.5" fill="#1d4b85"/>
<circle cx="465.64" cy="61.25" r="2.5" fill="#1d4b85"/>
<circle cx="475.88" cy="55.13" r="2.5" fill="#1d4b85"/>
<circle cx="301.80" cy="154.10" r="2.5" fill="#1d4b85"/>
<circle cx="332.52" cy="153.54" r="2.5" fill="#1d4b85"/>
<circle cx="363.24" cy="154.10" r="2.5" fill="#1d4b85"/>
<circle cx="383.72" cy="152.99" r="2.5" fill="#1d4b85"/>
<circle cx="404.20" cy="147.43" r="2.5" fill="#1d4b85"/>
<circle cx="434.92" cy="117.40" r="2.5" fill="#1d4b85"/>
<circle cx="445.16" cy="105.73" r="2.5" fill="#1d4b85"/>
<circle cx="455.40" cy="92.94" r="2.5" fill="#1d4b85"/>
<circle cx="465.64" cy="64.58" r="2.5" fill="#1d4b85"/>
<circle cx="475.88" cy="59.58" r="2.5" fill="#1d4b85"/>
<circle cx="301.80" cy="154.10" r="2.5" fill="#1d4b85"/>
<circle cx="332.52" cy="154.10" r="2.5" fill="#1d4b85"/>
<circle cx="363.24" cy="153.54" r="2.5" fill="#1d4b85"/>
<circle cx="383.72" cy="152.43" r="2.5" fill="#1d4b85"/>
<circle cx="404.20" cy="146.87" r="2.5" fill="#1d4b85"/>
<circle cx="434.92" cy="120.74" r="2.5" fill="#1d4b85"/>
<circle cx="445.16" cy="107.40" r="2.5" fill="#1d4b85"/>
<circle cx="455.40" cy="107.95" r="2.5" fill="#1d4b85"/>
<circle cx="465.64" cy="77.37" r="2.5" fill="#1d4b85"/>
<circle cx="475.88" cy="67.92" r="2.5" fill="#1d4b85"/>
<circle cx="301.80" cy="154.10" r="2.5" fill="#1d4b85"/>
<circle cx="332.52" cy="153.54" r="2.5" fill="#1d4b85"/>
<circle cx="363.24" cy="154.10" r="2.5" fill="#1d4b85"/>
<circle cx="383.72" cy="151.32" r="2.5" fill="#1d4b85"/>
<circle cx="404.20" cy="148.54" r="2.5" fill="#1d4b85"/>
<circle cx="434.92" cy="123.52" r="2.5" fill="#1d4b85"/>
<circle cx="445.16" cy="115.18" r="2.5" fill="#1d4b85"/>
<circle cx="455.40" cy="109.62" r="2.5" fill="#1d4b85"/>
<circle cx="465.64" cy="86.82" r="2.5" fill="#1d4b85"/>
<circle cx="475.88" cy="73.48" r="2.5" fill="#1d4b85"/>
<circle cx="301.80" cy="154.10" r="2.5" fill="#1d4b85"/>
<circle cx="332.52" cy="154.10" r="2.5" fill="#1d4b85"/>
<circle cx="363.24" cy="152.99" r="2.5" fill="#1d4b85"/>
<circle cx="383.72" cy="152.99" r="2.5" fill="#1d4b85"/>
<circle cx="404.20" cy="147.43" r="2.5" fill="#1d4b85"/>
<circle cx="434.92" cy="129.08" r="2.5" fill="#1d4b85"/>
<circle cx="445.16" cy="110.18" r="2.5" fill="#1d4b85"/>
<circle cx="455.40" cy="98.50" r="2.5" fill="#1d4b85"/>
<circle cx="465.64" cy="82.93" r="2.5" fill="#1d4b85"/>
<circle cx="475.88" cy="75.15" r="2.5" fill="#1d4b85"/>
<circle cx="301.80" cy="154.10" r="2.5" fill="#1d4b85"/>
<circle cx="332.52" cy="153.54" r="2.5" fill="#1d4b85"/>
<circle cx="363.24" cy="154.10" r="2.5" fill="#1d4b85"/>
<circle cx="383.72" cy="152.43" r="2.5" fill="#1d4b85"/>
<circle cx="404.20" cy="149.10" r="2.5" fill="#1d4b85"/>
<circle cx="434.92" cy="131.86" r="2.5" fill="#1d4b85"/>
<circle cx="445.16" cy="119.07" r="2.5" fill="#1d4b85"/>
<circle cx="455.40" cy="118.52" r="2.5" fill="#1d4b85"/>
<circle cx="465.64" cy="92.94" r="2.5" fill="#1d4b85"/>
<circle cx="475.88" cy="83.49" r="2.5" fill="#1d4b85"/>
<circle cx="301.80" cy="154.10" r="2.5" fill="#1d4b85"/>
<circle cx="332.52" cy="154.10" r="2.5" fill="#1d4b85"/>
<circle cx="363.24" cy="153.54" r="2.5" fill="#1d4b85"/>
<circle cx="383.72" cy="152.99" r="2.5" fill="#1d4b85"/>
<circle cx="404.20" cy="148.54" r="2.5" fill="#1d4b85"/>
<circle cx="434.92" cy="133.53" r="2.5" fill="#1d4b85"/>
<circle cx="445.16" cy="120.74" r="2.5" fill="#1d4b85"/>
<circle cx="455.40" cy="119.07" r="2.5" fill="#1d4b85"/>
<circle cx="465.64" cy="101.28" r="2.5" fill="#1d4b85"/>
<circle cx="475.88" cy="86.82" r="2.5" fill="#1d4b85"/>
<circle cx="301.80" cy="154.10" r="2.5" fill="#1d4b85"/>
<circle cx="332.52" cy="154.10" r="2.5" fill="#1d4b85"/>
<circle cx="363.24" cy="154.10" r="2.5" fill="#1d4b85"/>
<circle cx="383.72" cy="152.43" r="2.5" fill="#1d4b85"/>
<circle cx="404.20" cy="149.65" r="2.5" fill="#1d4b85"/>
<circle cx="434.92" cy="134.64" r="2.5" fill="#1d4b85"/>
<circle cx="445.16" cy="126.30" r="2.5" fill="#1d4b85"/>
<circle cx="455.40" cy="115.18" r="2.5" fill="#1d4b85"/>
<circle cx="465.64" cy="106.84" r="2.5" fill="#1d4b85"/>
<circle cx="475.88" cy="88.49" r="2.5" fill="#1d4b85"/>
<circle cx="301.80" cy="154.10" r="2.5" fill="#1d4b85"/>
<circle cx="332.52" cy="153.54" r="2.5" fill="#1d4b85"/>
<circle cx="363.24" cy="153.54" r="2.5" fill="#1d4b85"/>
<circle cx="383.72" cy="152.99" r="2.5" fill="#1d4b85"/>
<circle cx="404.20" cy="150.21" r="2.5" fill="#1d4b85"/>
<circle cx="434.92" cy="135.75" r="2.5" fill="#1d4b85"/>
<circle cx="445.16" cy="126.30" r="2.5" fill="#1d4b85"/>
<circle cx="455.40" cy="120.74" r="2.5" fill="#1d4b85"/>
<circle cx="465.64" cy="109.62" r="2.5" fill="#1d4b85"/>
<circle cx="475.88" cy="97.94" r="2.5" fill="#1d4b85"/>
<circle cx="301.80" cy="154.10" r="2.5" fill="#1d4b85"/>
<circle cx="332.52" cy="154.10" r="2.5" fill="#1d4b85"/>
<circle cx="363.24" cy="154.10" r="2.5" fill="#1d4b85"/>
<circle cx="383.72" cy="152.99" r="2.5" fill="#1d4b85"/>
<circle cx="404.20" cy="150.76" r="2.5" fill="#1d4b85"/>
<circle cx="434.92" cy="137.42" r="2.5" fill="#1d4b85"/>
<circle cx="445.16" cy="130.75" r="2.5" fill="#1d4b85"/>
<circle cx="455.40" cy="127.41" r="2.5" fill="#1d4b85"/>
<circle cx="465.64" cy="121.85" r="2.5" fill="#1d4b85"/>
<circle cx="475.88" cy="120.74" r="2.5" fill="#1d4b85"/>
<circle cx="301.80" cy="154.10" r="2.5" fill="#1d4b85"/>
<circle cx="332.52" cy="154.10" r="2.5" fill="#1d4b85"/>
<circle cx="363.24" cy="153.54" r="2.5" fill="#1d4b85"/>
<circle cx="383.72" cy="153.54" r="2.5" fill="#1d4b85"/>
<circle cx="404.20" cy="151.32" r="2.5" fill="#1d4b85"/>
<circle cx="434.92" cy="140.20" r="2.5" fill="#1d4b85"/>
<circle cx="445.16" cy="134.64" r="2.5" fill="#1d4b85"/>
<circle cx="455.40" cy="128.52" r="2.5" fill="#1d4b85"/>
<circle cx="465.64" cy="128.52" r="2.5" fill="#1d4b85"/>
<circle cx="475.88" cy="127.41" r="2.5" fill="#1d4b85"/>
<text x="7.50" y="230.50" font-size="12.5" fill="#111" color="#111" font-weight="bold" >C</text>
<text x="139.80" y="228.20" font-size="10.5" fill="#231f20" color="#231f20" text-anchor="middle" style="stroke-width:0.15px">Day 17</text>
<text x="139.70" y="242.20" font-size="10.5" fill="#231f20" color="#231f20" text-anchor="middle" style="stroke-width:0.15px">after tumor injection</text>
<line x1="47.40" y1="262.50" x2="47.40" y2="412.00" stroke="#231f20" stroke-width="1.1" />
<line x1="44.20" y1="411.50" x2="47.40" y2="411.50" stroke="#231f20" stroke-width="1" />
<text x="0" y="0" font-size="9.5" fill="#231f20" color="#231f20" text-anchor="end" transform="translate(40.00 414.50) scale(0.93 1)">0.0</text>
<line x1="44.20" y1="398.25" x2="47.40" y2="398.25" stroke="#231f20" stroke-width="1" />
<text x="0" y="0" font-size="9.5" fill="#231f20" color="#231f20" text-anchor="end" transform="translate(40.00 401.25) scale(0.93 1)">0.2</text>
<line x1="44.20" y1="385.00" x2="47.40" y2="385.00" stroke="#231f20" stroke-width="1" />
<text x="0" y="0" font-size="9.5" fill="#231f20" color="#231f20" text-anchor="end" transform="translate(40.00 388.00) scale(0.93 1)">0.4</text>
<line x1="44.20" y1="371.75" x2="47.40" y2="371.75" stroke="#231f20" stroke-width="1" />
<text x="0" y="0" font-size="9.5" fill="#231f20" color="#231f20" text-anchor="end" transform="translate(40.00 374.75) scale(0.93 1)">0.6</text>
<line x1="44.20" y1="358.50" x2="47.40" y2="358.50" stroke="#231f20" stroke-width="1" />
<text x="0" y="0" font-size="9.5" fill="#231f20" color="#231f20" text-anchor="end" transform="translate(40.00 361.50) scale(0.93 1)">0.8</text>
<line x1="44.20" y1="345.25" x2="47.40" y2="345.25" stroke="#231f20" stroke-width="1" />
<text x="0" y="0" font-size="9.5" fill="#231f20" color="#231f20" text-anchor="end" transform="translate(40.00 348.25) scale(0.93 1)">1.0</text>
<line x1="44.20" y1="332.00" x2="47.40" y2="332.00" stroke="#231f20" stroke-width="1" />
<text x="0" y="0" font-size="9.5" fill="#231f20" color="#231f20" text-anchor="end" transform="translate(40.00 335.00) scale(0.93 1)">1.2</text>
<line x1="44.20" y1="318.75" x2="47.40" y2="318.75" stroke="#231f20" stroke-width="1" />
<text x="0" y="0" font-size="9.5" fill="#231f20" color="#231f20" text-anchor="end" transform="translate(40.00 321.75) scale(0.93 1)">1.4</text>
<line x1="44.20" y1="305.50" x2="47.40" y2="305.50" stroke="#231f20" stroke-width="1" />
<text x="0" y="0" font-size="9.5" fill="#231f20" color="#231f20" text-anchor="end" transform="translate(40.00 308.50) scale(0.93 1)">1.6</text>
<line x1="44.20" y1="292.25" x2="47.40" y2="292.25" stroke="#231f20" stroke-width="1" />
<text x="0" y="0" font-size="9.5" fill="#231f20" color="#231f20" text-anchor="end" transform="translate(40.00 295.25) scale(0.93 1)">1.8</text>
<line x1="44.20" y1="279.00" x2="47.40" y2="279.00" stroke="#231f20" stroke-width="1" />
<text x="0" y="0" font-size="9.5" fill="#231f20" color="#231f20" text-anchor="end" transform="translate(40.00 282.00) scale(0.93 1)">2.0</text>
<line x1="44.20" y1="265.75" x2="47.40" y2="265.75" stroke="#231f20" stroke-width="1" />
<text x="0" y="0" font-size="9.5" fill="#231f20" color="#231f20" text-anchor="end" transform="translate(40.00 268.75) scale(0.93 1)">2.2</text>
<line x1="46.90" y1="411.50" x2="231.50" y2="411.50" stroke="#231f20" stroke-width="1.3" />
<line x1="100.20" y1="411.50" x2="100.20" y2="414.50" stroke="#231f20" stroke-width="1" />
<line x1="179.00" y1="411.50" x2="179.00" y2="414.50" stroke="#231f20" stroke-width="1" />
<text x="100.00" y="426.80" font-size="9" fill="#231f20" color="#231f20" text-anchor="middle" style="stroke-width:0.15px">Vehicle control</text>
<text x="179.20" y="426.80" font-size="9" fill="#231f20" color="#231f20" text-anchor="middle" style="stroke-width:0.15px">Ly500307</text>
<text x="0" y="0" font-size="10.3" fill="#231f20" color="#231f20" transform="translate(21.10 395.35) rotate(-90)" textLength="18.70" lengthAdjust="spacingAndGlyphs" style="stroke-width:0.38px">Tumor</text>
<text x="0" y="0" font-size="10.3" fill="#231f20" color="#231f20" transform="translate(21.10 373.55) rotate(-90)" textLength="23.80" lengthAdjust="spacingAndGlyphs" style="stroke-width:0.38px">volume</text>
<text x="0" y="0" font-size="10.3" fill="#231f20" color="#231f20" transform="translate(21.10 346.35) rotate(-90)" textLength="18.70" lengthAdjust="spacingAndGlyphs" style="stroke-width:0.38px">[cm<tspan font-size="6" dy="-3.2">3</tspan><tspan dy="3.2">]</tspan></text>
<text x="0" y="0" font-size="10.3" fill="#231f20" color="#231f20" transform="translate(21.10 324.55) rotate(-90)" textLength="18.70" lengthAdjust="spacingAndGlyphs" style="stroke-width:0.38px">mean</text>
<text x="0" y="0" font-size="10.3" fill="#231f20" color="#231f20" transform="translate(21.10 302.15) rotate(-90)" textLength="12.10" lengthAdjust="spacingAndGlyphs" style="stroke-width:0.38px">+/-</text>
<text x="0" y="0" font-size="10.3" fill="#231f20" color="#231f20" transform="translate(21.10 287.45) rotate(-90)" textLength="9.50" lengthAdjust="spacingAndGlyphs" style="stroke-width:0.38px">SD</text>
<polyline points="100.3,265.2 100.3,258.6 179.0,258.6 179.0,265.2" fill="none" stroke="#333" stroke-width="1.1"/>
<text x="140.30" y="259.00" font-size="10" fill="#231f20" color="#231f20" text-anchor="middle" >***</text>
<line x1="100.30" y1="293.50" x2="100.30" y2="355.60" stroke="#1d4b85" stroke-width="1.1" />
<line x1="87.00" y1="293.50" x2="113.00" y2="293.50" stroke="#1d4b85" stroke-width="1.2" />
<line x1="87.00" y1="355.60" x2="113.00" y2="355.60" stroke="#1d4b85" stroke-width="1.2" />
<line x1="74.00" y1="324.80" x2="126.70" y2="324.80" stroke="#174479" stroke-width="2.0" />
<circle cx="100.30" cy="272.60" r="2.55" fill="#173d70"/>
<circle cx="100.30" cy="293.20" r="2.55" fill="#173d70"/>
<circle cx="100.30" cy="299.40" r="2.55" fill="#173d70"/>
<circle cx="100.30" cy="308.70" r="2.55" fill="#173d70"/>
<circle cx="95.20" cy="315.80" r="2.55" fill="#173d70"/>
<circle cx="105.00" cy="316.70" r="2.55" fill="#173d70"/>
<circle cx="105.00" cy="326.70" r="2.55" fill="#173d70"/>
<circle cx="95.20" cy="331.10" r="2.55" fill="#173d70"/>
<circle cx="105.00" cy="333.00" r="2.55" fill="#173d70"/>
<circle cx="100.30" cy="344.10" r="2.55" fill="#173d70"/>
<circle cx="100.30" cy="371.70" r="2.55" fill="#173d70"/>
<circle cx="100.30" cy="379.45" r="2.55" fill="#173d70"/>
<line x1="179.20" y1="351.40" x2="179.20" y2="376.30" stroke="#c8102e" stroke-width="1" />
<line x1="166.40" y1="351.40" x2="191.60" y2="351.40" stroke="#c8102e" stroke-width="1.1" />
<line x1="166.40" y1="376.30" x2="191.60" y2="376.30" stroke="#c8102e" stroke-width="1.1" />
<line x1="153.10" y1="364.10" x2="205.00" y2="364.10" stroke="#b00f2c" stroke-width="2.0" />
<rect x="176.95" y="339.95" width="4.5" height="4.5" fill="#c8102e"/>
<rect x="166.65" y="350.05" width="4.5" height="4.5" fill="#c8102e"/>
<rect x="186.75" y="350.45" width="4.5" height="4.5" fill="#c8102e"/>
<rect x="176.95" y="352.55" width="4.5" height="4.5" fill="#c8102e"/>
<rect x="176.95" y="359.75" width="4.5" height="4.5" fill="#c8102e"/>
<rect x="176.95" y="366.85" width="4.5" height="4.5" fill="#c8102e"/>
<rect x="186.75" y="366.85" width="4.5" height="4.5" fill="#c8102e"/>
<rect x="166.65" y="369.55" width="4.5" height="4.5" fill="#c8102e"/>
<rect x="186.75" y="371.45" width="4.5" height="4.5" fill="#c8102e"/>
<rect x="176.95" y="374.65" width="4.5" height="4.5" fill="#c8102e"/>
<rect x="176.95" y="380.25" width="4.5" height="4.5" fill="#c8102e"/>
<text x="249.10" y="230.40" font-size="12.5" fill="#111" color="#111" font-weight="bold" >D</text>
<line x1="301.60" y1="241.80" x2="301.60" y2="412.00" stroke="#231f20" stroke-width="1.1" />
<line x1="298.40" y1="411.50" x2="301.60" y2="411.50" stroke="#231f20" stroke-width="1" />
<text x="0" y="0" font-size="9.5" fill="#231f20" color="#231f20" text-anchor="end" transform="translate(294.30 414.50) scale(0.93 1)">0.0</text>
<line x1="298.40" y1="397.57" x2="301.60" y2="397.57" stroke="#231f20" stroke-width="1" />
<text x="0" y="0" font-size="9.5" fill="#231f20" color="#231f20" text-anchor="end" transform="translate(294.30 400.57) scale(0.93 1)">0.5</text>
<line x1="298.40" y1="383.65" x2="301.60" y2="383.65" stroke="#231f20" stroke-width="1" />
<text x="0" y="0" font-size="9.5" fill="#231f20" color="#231f20" text-anchor="end" transform="translate(294.30 386.65) scale(0.93 1)">1.0</text>
<line x1="298.40" y1="369.73" x2="301.60" y2="369.73" stroke="#231f20" stroke-width="1" />
<text x="0" y="0" font-size="9.5" fill="#231f20" color="#231f20" text-anchor="end" transform="translate(294.30 372.73) scale(0.93 1)">1.5</text>
<line x1="298.40" y1="355.80" x2="301.60" y2="355.80" stroke="#231f20" stroke-width="1" />
<text x="0" y="0" font-size="9.5" fill="#231f20" color="#231f20" text-anchor="end" transform="translate(294.30 358.80) scale(0.93 1)">2.0</text>
<line x1="298.40" y1="341.88" x2="301.60" y2="341.88" stroke="#231f20" stroke-width="1" />
<text x="0" y="0" font-size="9.5" fill="#231f20" color="#231f20" text-anchor="end" transform="translate(294.30 344.88) scale(0.93 1)">2.5</text>
<line x1="298.40" y1="327.95" x2="301.60" y2="327.95" stroke="#231f20" stroke-width="1" />
<text x="0" y="0" font-size="9.5" fill="#231f20" color="#231f20" text-anchor="end" transform="translate(294.30 330.95) scale(0.93 1)">3.0</text>
<line x1="298.40" y1="314.02" x2="301.60" y2="314.02" stroke="#231f20" stroke-width="1" />
<text x="0" y="0" font-size="9.5" fill="#231f20" color="#231f20" text-anchor="end" transform="translate(294.30 317.02) scale(0.93 1)">3.5</text>
<line x1="298.40" y1="300.10" x2="301.60" y2="300.10" stroke="#231f20" stroke-width="1" />
<text x="0" y="0" font-size="9.5" fill="#231f20" color="#231f20" text-anchor="end" transform="translate(294.30 303.10) scale(0.93 1)">4.0</text>
<line x1="298.40" y1="286.18" x2="301.60" y2="286.18" stroke="#231f20" stroke-width="1" />
<text x="0" y="0" font-size="9.5" fill="#231f20" color="#231f20" text-anchor="end" transform="translate(294.30 289.18) scale(0.93 1)">4.5</text>
<line x1="298.40" y1="272.25" x2="301.60" y2="272.25" stroke="#231f20" stroke-width="1" />
<text x="0" y="0" font-size="9.5" fill="#231f20" color="#231f20" text-anchor="end" transform="translate(294.30 275.25) scale(0.93 1)">5.0</text>
<line x1="298.40" y1="258.32" x2="301.60" y2="258.32" stroke="#231f20" stroke-width="1" />
<text x="0" y="0" font-size="9.5" fill="#231f20" color="#231f20" text-anchor="end" transform="translate(294.30 261.32) scale(0.93 1)">5.5</text>
<line x1="298.40" y1="244.40" x2="301.60" y2="244.40" stroke="#231f20" stroke-width="1" />
<text x="0" y="0" font-size="9.5" fill="#231f20" color="#231f20" text-anchor="end" transform="translate(294.30 247.40) scale(0.93 1)">6.0</text>
<line x1="301.10" y1="411.50" x2="512.00" y2="411.50" stroke="#231f20" stroke-width="1.3" />
<line x1="362.00" y1="411.50" x2="362.00" y2="414.50" stroke="#231f20" stroke-width="1" />
<line x1="451.90" y1="411.50" x2="451.90" y2="414.50" stroke="#231f20" stroke-width="1" />
<text x="362.00" y="426.80" font-size="9" fill="#231f20" color="#231f20" text-anchor="middle" style="stroke-width:0.15px">Vehicle control</text>
<text x="451.80" y="426.80" font-size="9" fill="#231f20" color="#231f20" text-anchor="middle" style="stroke-width:0.15px">Ly500307</text>
<text x="0" y="0" font-size="10.0" fill="#231f20" color="#231f20" transform="translate(263.30 377.95) rotate(-90)" textLength="13.40" lengthAdjust="spacingAndGlyphs" style="stroke-width:0.38px">AUC</text>
<text x="0" y="0" font-size="10.0" fill="#231f20" color="#231f20" transform="translate(263.30 361.95) rotate(-90)" textLength="16.00" lengthAdjust="spacingAndGlyphs" style="stroke-width:0.38px">[cm<tspan font-size="6" dy="-3.2">3</tspan></text>
<text x="0" y="0" font-size="10.0" fill="#231f20" color="#231f20" transform="translate(263.30 341.35) rotate(-90)" textLength="3.30" lengthAdjust="spacingAndGlyphs" style="stroke-width:0.38px">×</text>
<text x="0" y="0" font-size="10.0" fill="#231f20" color="#231f20" transform="translate(263.30 334.75) rotate(-90)" textLength="14.00" lengthAdjust="spacingAndGlyphs" style="stroke-width:0.38px">days</text>
<text x="0" y="0" font-size="10.0" fill="#231f20" color="#231f20" transform="translate(263.30 318.85) rotate(-90)" textLength="15.00" lengthAdjust="spacingAndGlyphs" style="stroke-width:0.38px">after</text>
<text x="0" y="0" font-size="10.0" fill="#231f20" color="#231f20" transform="translate(263.30 301.25) rotate(-90)" textLength="27.20" lengthAdjust="spacingAndGlyphs" style="stroke-width:0.38px">tumour</text>
<text x="0" y="0" font-size="10.0" fill="#231f20" color="#231f20" transform="translate(274.80 366.75) rotate(-90)" textLength="30.50" lengthAdjust="spacingAndGlyphs" style="stroke-width:0.38px">injection]</text>
<text x="0" y="0" font-size="10.0" fill="#231f20" color="#231f20" transform="translate(274.80 333.05) rotate(-90)" textLength="17.50" lengthAdjust="spacingAndGlyphs" style="stroke-width:0.38px">mean</text>
<text x="0" y="0" font-size="10.0" fill="#231f20" color="#231f20" transform="translate(274.80 313.75) rotate(-90)" textLength="13.50" lengthAdjust="spacingAndGlyphs" style="stroke-width:0.38px">+/-</text>
<text x="0" y="0" font-size="10.0" fill="#231f20" color="#231f20" transform="translate(274.80 296.45) rotate(-90)" textLength="9.70" lengthAdjust="spacingAndGlyphs" style="stroke-width:0.38px">SD</text>
<polyline points="361.7,237.8 361.7,230.4 451.8,230.4 451.8,238" fill="none" stroke="#333" stroke-width="1.1"/>
<text x="407.00" y="230.90" font-size="10" fill="#231f20" color="#231f20" text-anchor="middle" >****</text>
<line x1="361.70" y1="255.60" x2="361.70" y2="316.00" stroke="#1d4b85" stroke-width="1.1" />
<line x1="346.80" y1="255.60" x2="377.20" y2="255.60" stroke="#56688a" stroke-width="1.2" />
<line x1="346.90" y1="316.00" x2="376.80" y2="316.00" stroke="#56688a" stroke-width="1.2" />
<line x1="331.80" y1="285.90" x2="391.80" y2="285.90" stroke="#174479" stroke-width="2.1" />
<circle cx="356.10" cy="250.60" r="2.6" fill="#173d70"/>
<circle cx="367.40" cy="247.00" r="2.6" fill="#173d70"/>
<circle cx="367.40" cy="259.30" r="2.6" fill="#173d70"/>
<circle cx="356.10" cy="263.80" r="2.6" fill="#173d70"/>
<circle cx="367.40" cy="265.90" r="2.6" fill="#173d70"/>
<circle cx="361.70" cy="273.50" r="2.6" fill="#173d70"/>
<circle cx="361.70" cy="287.70" r="2.6" fill="#173d70"/>
<circle cx="361.70" cy="298.10" r="2.6" fill="#173d70"/>
<circle cx="361.70" cy="307.10" r="2.6" fill="#173d70"/>
<circle cx="356.00" cy="321.00" r="2.6" fill="#173d70"/>
<circle cx="367.30" cy="321.00" r="2.6" fill="#173d70"/>
<circle cx="361.70" cy="334.60" r="2.6" fill="#173d70"/>
<line x1="451.90" y1="338.50" x2="451.90" y2="358.40" stroke="#c8102e" stroke-width="1" />
<line x1="437.50" y1="338.50" x2="466.90" y2="338.50" stroke="#c8102e" stroke-width="1.1" />
<line x1="437.50" y1="358.40" x2="466.90" y2="358.40" stroke="#c8102e" stroke-width="1.1" />
<line x1="422.30" y1="348.60" x2="481.80" y2="348.60" stroke="#b00f2c" stroke-width="2.1" />
<rect x="449.30" y="331.20" width="5.2" height="5.2" fill="#c8102e"/>
<rect x="432.30" y="338.70" width="5.2" height="5.2" fill="#c8102e"/>
<rect x="432.30" y="346.50" width="5.2" height="5.2" fill="#c8102e"/>
<rect x="443.90" y="344.30" width="5.2" height="5.2" fill="#c8102e"/>
<rect x="443.90" y="350.60" width="5.2" height="5.2" fill="#c8102e"/>
<rect x="454.60" y="338.70" width="5.2" height="5.2" fill="#c8102e"/>
<rect x="454.60" y="344.60" width="5.2" height="5.2" fill="#c8102e"/>
<rect x="454.60" y="349.70" width="5.2" height="5.2" fill="#c8102e"/>
<rect x="466.00" y="342.80" width="5.2" height="5.2" fill="#c8102e"/>
<rect x="466.00" y="350.90" width="5.2" height="5.2" fill="#c8102e"/>
<rect x="449.30" y="369.50" width="5.2" height="5.2" fill="#c8102e"/>
</svg>
</body></html>
